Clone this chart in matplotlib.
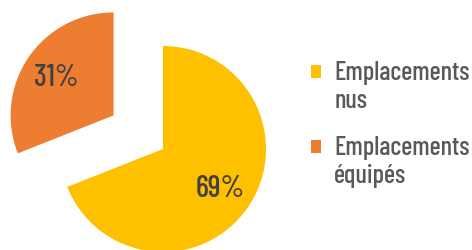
import matplotlib
matplotlib.use("Agg")
import matplotlib.pyplot as plt
from matplotlib.patches import Rectangle
from matplotlib.legend_handler import HandlerPatch

categories = ["Emplacements\nnus", "Emplacements\néquipés"]
values = [69, 31]
colors = ["#FFC000", "#ED7D31"]
explode = [0, 0.58]

plt.rcParams['font.family'] = ['Barlow Condensed', 'DejaVu Sans']

W, H = 472, 251
fig = plt.figure(figsize=(W / 100, H / 100), dpi=100)
ax = fig.add_axes([0, 0, 1, 1])
r = 103.0
cx, cy = 163.0, 101.0

wedges, texts, autotexts = ax.pie(
    values, colors=colors, explode=explode, startangle=90, counterclock=False,
    radius=1.0, autopct='%.0f%%', pctdistance=0.67,
    textprops=dict(color="#404040", fontsize=22, weight=500))
ax.set_xlim(-cx / r, (W - cx) / r)
ax.set_ylim(-cy / r, (H - cy) / r)
ax.set_aspect('auto')
ax.axis('off')


def square(legend, orig_handle, xdescent, ydescent, width, height, fontsize):
    return Rectangle((-xdescent, -ydescent + 0.55 * fontsize), width, height)


leg = ax.legend(wedges, categories, loc='upper left',
                bbox_to_anchor=(311 / W, 1 - 61 / H), bbox_transform=fig.transFigure,
                frameon=False, labelcolor="#595959",
                prop=dict(family=['Barlow Condensed', 'DejaVu Sans'], weight=500, size=19),
                handlelength=0.38, handleheight=0.38, handletextpad=0.5,
                labelspacing=0.87, borderpad=0, borderaxespad=0,
                handler_map={w: HandlerPatch(patch_func=square) for w in wedges})

fig.savefig("out.png", dpi=100)
